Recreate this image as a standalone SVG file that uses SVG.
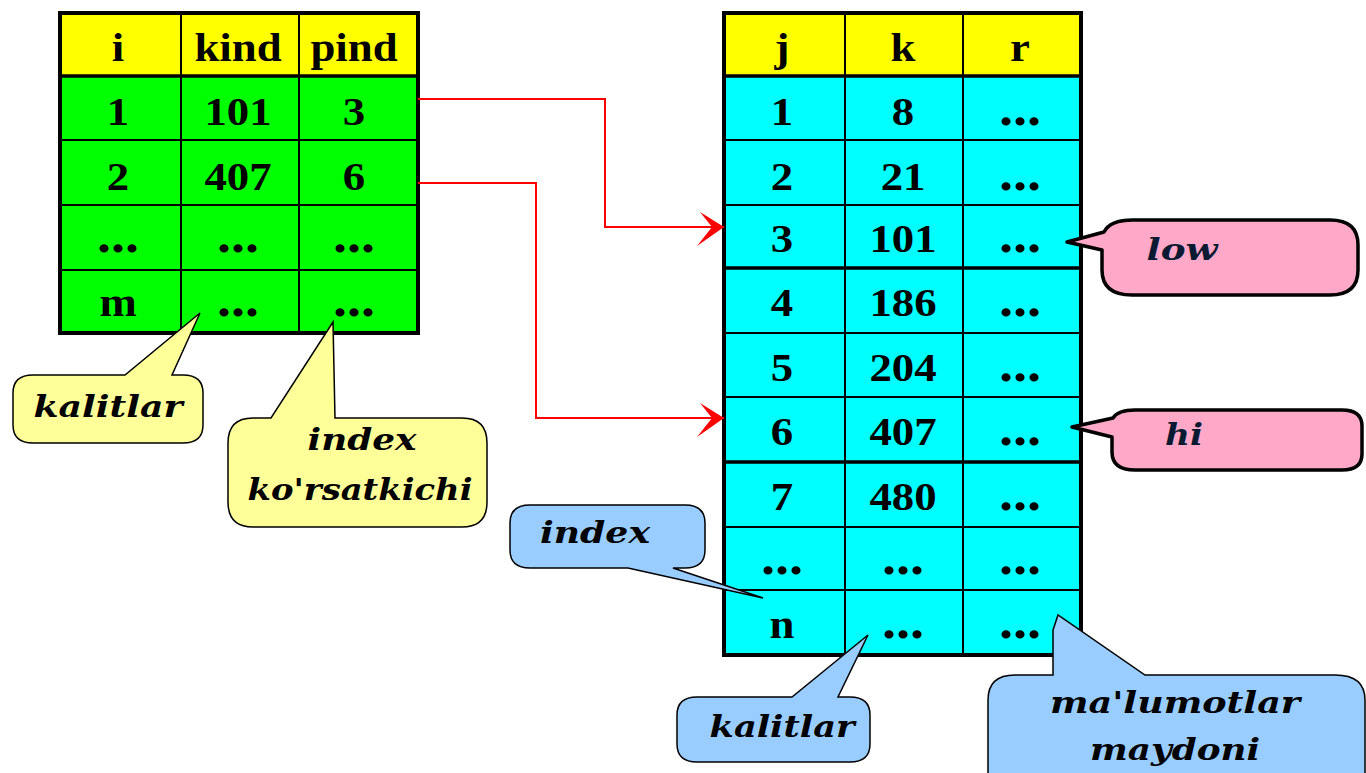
<svg xmlns="http://www.w3.org/2000/svg" width="1366" height="773" viewBox="0 0 1366 773">
  <style>
    .cell { font-family: "Liberation Serif", "Times New Roman", serif; font-weight: bold; font-size: 40px; fill: #000; text-anchor: middle; }
    .dots { font-size: 50px; }
    .lbl { font-family: "DejaVu Serif", "Liberation Serif", serif; font-weight: bold; font-style: italic; font-size: 30px; fill: #000; text-anchor: middle; }
    .lbl-dark { fill: #0a1a33; }
    .grid { stroke: #000; stroke-width: 2; fill: none; }
    .sep { stroke: #000; stroke-width: 3.5; fill: none; }
    .frame { stroke: #000; stroke-width: 4; fill: none; }
    .wire { stroke: #ff0000; stroke-width: 2; fill: none; }
    .note-y { fill: #ffff99; stroke: #000; stroke-width: 1.5; }
    .note-b { fill: #99ccff; stroke: #000; stroke-width: 1.5; }
    .note-p { fill: #ffa8c8; stroke: #000; stroke-width: 3.5; stroke-linejoin: round; }
  </style>
  <defs>
    <marker id="barb" markerUnits="userSpaceOnUse" markerWidth="30" markerHeight="40" viewBox="-28 -20 30 40" refX="0" refY="0" orient="auto">
      <path d="M0,0 L-24,-15 L-12,0 L-27,19 Z" fill="#ff0000"/>
    </marker>
  </defs>

  <rect width="1366" height="773" fill="#ffffff"/>

  <!-- index table: i / kind / pind -->
  <g id="index-table">
    <rect x="60" y="13" width="358" height="63" fill="#ffff00"/>
    <rect x="60" y="76" width="358" height="257" fill="#00ff00"/>
    <path class="grid" d="M181,13 V333 M299,13 V333 M60,140 H418 M60,205 H418 M60,270 H418"/>
    <path class="sep" d="M60,76 H418"/>
    <rect class="frame" x="60" y="13" width="358" height="320"/>
    <g transform="scale(1.12 1)">
      <text class="cell" x="105.4" y="61">i</text>
      <text class="cell" x="212.5" y="61">kind</text>
      <text class="cell" x="316.1" y="61">pind</text>
      <text class="cell" x="105.4" y="125">1</text>
      <text class="cell" x="212.5" y="125">101</text>
      <text class="cell" x="316.1" y="125">3</text>
      <text class="cell" x="105.4" y="190">2</text>
      <text class="cell" x="212.5" y="190">407</text>
      <text class="cell" x="316.1" y="190">6</text>
      <text class="cell dots" x="105.4" y="252">...</text>
      <text class="cell dots" x="212.5" y="252">...</text>
      <text class="cell dots" x="316.1" y="252">...</text>
      <text class="cell" x="105.4" y="316">m</text>
      <text class="cell dots" x="212.5" y="316">...</text>
      <text class="cell dots" x="316.1" y="316">...</text>
    </g>
  </g>

  <!-- main table: j / k / r -->
  <g id="main-table">
    <rect x="724" y="13" width="357" height="63" fill="#ffff00"/>
    <rect x="724" y="76" width="357" height="579" fill="#00ffff"/>
    <path class="grid" d="M845,13 V655 M963,13 V655 M724,140 H1081 M724,205 H1081 M724,333 H1081 M724,397 H1081 M724,527 H1081 M724,590 H1081"/>
    <path class="sep" d="M724,76 H1081 M724,268 H1081 M724,462 H1081"/>
    <rect class="frame" x="724" y="13" width="357" height="642"/>
    <g transform="scale(1.12 1)">
      <text class="cell" x="698.2" y="61">j</text>
      <text class="cell" x="806.3" y="61">k</text>
      <text class="cell" x="910.7" y="61">r</text>
      <text class="cell" x="698.2" y="125">1</text>
      <text class="cell" x="806.3" y="125">8</text>
      <text class="cell dots" x="910.7" y="125">...</text>
      <text class="cell" x="698.2" y="190">2</text>
      <text class="cell" x="806.3" y="190">21</text>
      <text class="cell dots" x="910.7" y="190">...</text>
      <text class="cell" x="698.2" y="252">3</text>
      <text class="cell" x="806.3" y="252">101</text>
      <text class="cell dots" x="910.7" y="252">...</text>
      <text class="cell" x="698.2" y="316">4</text>
      <text class="cell" x="806.3" y="316">186</text>
      <text class="cell dots" x="910.7" y="316">...</text>
      <text class="cell" x="698.2" y="381">5</text>
      <text class="cell" x="806.3" y="381">204</text>
      <text class="cell dots" x="910.7" y="381">...</text>
      <text class="cell" x="698.2" y="445">6</text>
      <text class="cell" x="806.3" y="445">407</text>
      <text class="cell dots" x="910.7" y="445">...</text>
      <text class="cell" x="698.2" y="510">7</text>
      <text class="cell" x="806.3" y="510">480</text>
      <text class="cell dots" x="910.7" y="510">...</text>
      <text class="cell dots" x="698.2" y="574">...</text>
      <text class="cell dots" x="806.3" y="574">...</text>
      <text class="cell dots" x="910.7" y="574">...</text>
      <text class="cell" x="698.2" y="638">n</text>
      <text class="cell dots" x="806.3" y="638">...</text>
      <text class="cell dots" x="910.7" y="638">...</text>
    </g>
  </g>

  <!-- pind pointers into the main table -->
  <g id="connectors">
    <path class="wire" d="M418,99 H605 V227 H724" marker-end="url(#barb)"/>
    <path class="wire" d="M418,183 H536 V418 H724" marker-end="url(#barb)"/>
  </g>

  <!-- callouts -->
  <g id="note-kalitlar-left">
    <path class="note-y" d="M33,375 L125,375 L200,313 L172,375 L183,375 Q203,375 203,393 L203,425 Q203,443 183,443 L33,443 Q13,443 13,425 L13,393 Q13,375 33,375 Z"/>
    <text class="lbl" x="108" y="417" textLength="149" lengthAdjust="spacingAndGlyphs">kalitlar</text>
  </g>

  <g id="note-index-pointer">
    <path class="note-y" d="M253,418 L271,418 L333,322 L335,418 L462,418 Q487,418 487,443 L487,502 Q487,527 462,527 L253,527 Q228,527 228,502 L228,443 Q228,418 253,418 Z"/>
    <text class="lbl" x="362" y="450" textLength="109" lengthAdjust="spacingAndGlyphs">index</text>
    <text class="lbl" x="360" y="500" textLength="225" lengthAdjust="spacingAndGlyphs">ko'rsatkichi</text>
  </g>

  <g id="note-low">
    <path class="note-p" d="M1133,220 L1330,220 Q1358,220 1358,245 L1358,270 Q1358,295 1330,295 L1132,295 Q1102,295 1102,270 L1102,250 L1067,242 L1104,232 Q1110,220 1133,220 Z"/>
    <text class="lbl lbl-dark" x="1182" y="260" textLength="71" lengthAdjust="spacingAndGlyphs">low</text>
  </g>

  <g id="note-hi">
    <path class="note-p" d="M1135,410 L1342,410 Q1362,410 1362,426 L1362,454 Q1362,470 1342,470 L1135,470 Q1112,470 1112,452 L1112,437 L1072,427 L1113,418 Q1118,410 1135,410 Z"/>
    <text class="lbl lbl-dark" x="1184" y="445" textLength="38" lengthAdjust="spacingAndGlyphs">hi</text>
  </g>

  <g id="note-index">
    <path class="note-b" d="M530,505 L685,505 Q705,505 705,523 L705,550 Q705,568 685,568 L673,568 L763,598 L628,568 L530,568 Q510,568 510,550 L510,523 Q510,505 530,505 Z"/>
    <text class="lbl" x="595" y="543" textLength="110" lengthAdjust="spacingAndGlyphs">index</text>
  </g>

  <g id="note-kalitlar-right">
    <path class="note-b" d="M697,697 L792,697 L868,635 L838,697 L850,697 Q870,697 870,715 L870,744 Q870,762 850,762 L697,762 Q677,762 677,744 L677,715 Q677,697 697,697 Z"/>
    <text class="lbl" x="782" y="737" textLength="145" lengthAdjust="spacingAndGlyphs">kalitlar</text>
  </g>

  <g id="note-data">
    <path class="note-b" d="M1015,675 L1053,675 L1053,630 L1058,615 L1145,675 L1335,675 Q1365,675 1365,700 L1365,800 L988,800 L988,700 Q988,675 1015,675 Z"/>
    <text class="lbl" x="1175" y="713" textLength="250" lengthAdjust="spacingAndGlyphs">ma'lumotlar</text>
    <text class="lbl" x="1175" y="760" textLength="170" lengthAdjust="spacingAndGlyphs">maydoni</text>
  </g>
</svg>
